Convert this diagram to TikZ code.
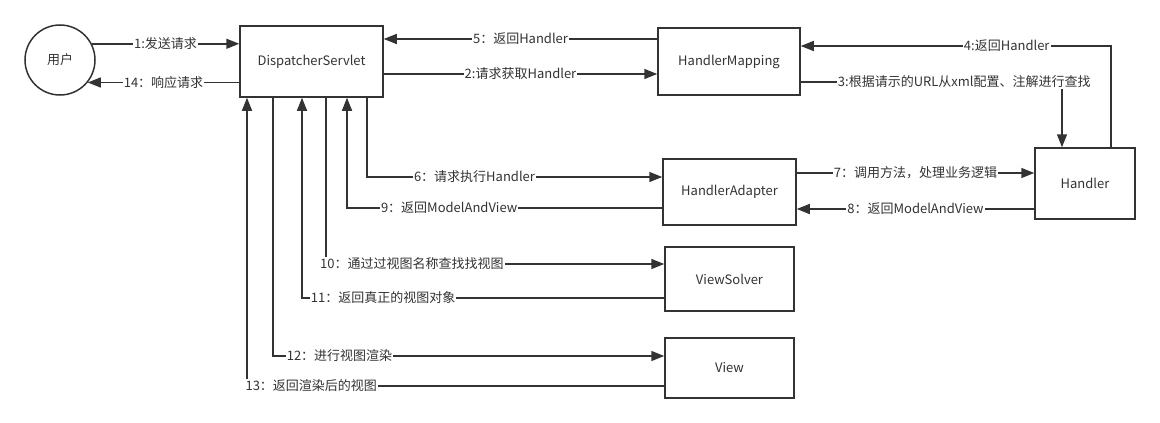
\documentclass[tikz,border=0pt]{standalone}
\usepackage{fontspec}
\setmainfont{Noto Sans CJK SC}
\usetikzlibrary{arrows.meta,positioning}
\begin{document}
\begin{tikzpicture}[
    x=1pt,y=-1pt,
    >={Triangle[length=13pt,width=10pt]},
    every node/.style={text=black!80,font=\fontsize{13}{15}\selectfont},
    box/.style={
        draw=black!80,
        line width=1.5pt,
        fill=white,
        inner sep=0pt
    },
    flow/.style={
        ->,
        draw=black!80,
        line width=1.5pt
    },
    note/.style={fill=white,inner sep=1pt}
    ]
  \useasboundingbox[fill=white] (0,0) rectangle (1160,423);

  \node[box,circle,minimum size=70pt] (user) at (60,60) {用户};
  \node[box,minimum width=143pt,minimum height=71pt] (ds) at (311.5,61.5) {DispatcherServlet};
  \node[box,minimum width=142pt,minimum height=67pt] (hm) at (729,61.5) {HandlerMapping};
  \node[box,minimum width=100pt,minimum height=71pt] (handler) at (1085,183.5) {Handler};
  \node[box,minimum width=133pt,minimum height=66pt] (ha) at (729.5,192) {HandlerAdapter};
  \node[box,minimum width=129pt,minimum height=64pt] (vs) at (729.5,279) {ViewSolver};
  \node[box,minimum width=129pt,minimum height=60pt] (view) at (729.5,368) {View};

  \draw[flow] (user.27) -- node[note] {1:发送请求} (ds.west |- user.27);
  \draw[flow] (ds.west |- user.-39) -- node[note] {14：响应请求} (user.-39);
  \draw[flow] (hm.west |- 0,39) -- node[note] {5：返回Handler} (ds.east |- 0,39);
  \draw[flow] (ds.east |- 0,74) -- node[note] {2:请求获取Handler} (hm.west |- 0,74);
  \draw[flow] (handler.north -| 1111,0) |- node[note,pos=0.668] {4:返回Handler} (hm.east |- 0,46);
  \draw[flow] (hm.east |- 0,82) -| node[note,pos=0.313] {3:根据请示的URL从xml配置、注解进行查找} (handler.north -| 1062,0);
  \draw[flow] (ha.east |- 0,173) -- node[note] {7：调用方法，处理业务逻辑} (handler.west |- 0,173);
  \draw[flow] (handler.west |- 0,209) -- node[note] {8：返回ModelAndView} (ha.east |- 0,209);

  \draw[flow] (ds.south -| 367,0) |- node[note,pos=0.682] {6：请求执行Handler} (ha.west |- 0,177);
  \draw[flow] (ha.west |- 0,208) -| node[note,pos=0.338] {9：返回ModelAndView} (ds.south -| 347,0);
  \draw[flow] (ds.south -| 326,0) |- node[note,pos=0.627] {10：通过过视图名称查找找视图} (vs.west |- 0,264);
  \draw[flow] (vs.west |- 0,298) -| node[note,pos=0.388] {11：返回真正的视图对象} (ds.south -| 302,0);
  \draw[flow] (ds.south -| 273,0) |- node[note,pos=0.585] {12：进行视图渲染} (view.west |- 0,356);
  \draw[flow] (view.west |- 0,386) -| node[note,pos=0.423] {13：返回渲染后的视图} (ds.south -| 247,0);
\end{tikzpicture}
\end{document}
